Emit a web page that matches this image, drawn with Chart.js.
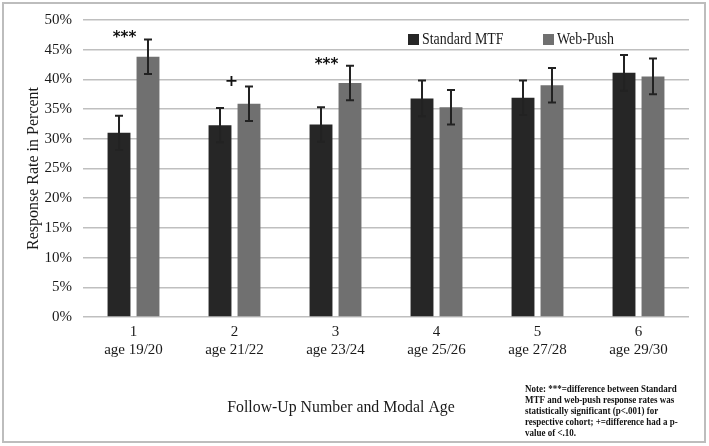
<!DOCTYPE html>
<html>
<head>
<meta charset="utf-8">
<script src="https://cdn.jsdelivr.net/npm/chart.js@4.4.0/dist/chart.umd.min.js"></script>
<style>
  html, body { margin: 0; padding: 0; background: #fff; }
  #wrap { position: relative; width: 709px; height: 446px; }
  #frame { position: absolute; left: 2px; top: 2px; width: 700px; height: 437px; border: 2px solid #bdbdbd; }
</style>
</head>
<body>
<div id="wrap">
  <canvas id="chart" width="709" height="446"></canvas>
  <div id="frame"></div>
</div>
<script>
// --- data ---
const followUps = ['1', '2', '3', '4', '5', '6'];
const ages = ['age 19/20', 'age 21/22', 'age 23/24', 'age 25/26', 'age 27/28', 'age 29/30'];
const standardMTF = [31.0, 32.3, 32.4, 36.8, 36.9, 41.1];
const webPush = [43.8, 35.9, 39.4, 35.3, 39.0, 40.5];
const standardErr = [2.9, 2.9, 2.9, 3.0, 2.9, 3.0];
const webErr = [2.9, 2.9, 2.9, 2.9, 2.9, 3.0];
const sigMarks = ['***', '+', '***', '', '', ''];
const yTicks = [0, 5, 10, 15, 20, 25, 30, 35, 40, 45, 50];

const serif = "'Liberation Serif', 'DejaVu Serif', serif";
const errSets = [standardErr, webErr];

// text squeezed horizontally a bit, the source font is narrower than Liberation Serif
function squeezedText(ctx, text, x, y, font, sx, align) {
    ctx.save();
    ctx.font = font;
    ctx.textAlign = align || 'left';
    ctx.translate(x, y);
    ctx.scale(sx, 1);
    ctx.fillText(text, 0, 0);
    ctx.restore();
}

// error bars + significance marks + legend + titles
const extras = {
    id: 'extras',
    afterDatasetsDraw(chart) {
        const ctx = chart.ctx;
        const y = chart.scales.y;
        const xs = chart.scales.x;
        const area = chart.chartArea;

        // error bars
        ctx.save();
        ctx.strokeStyle = '#222';
        ctx.lineWidth = 2;
        chart.data.datasets.forEach((ds, di) => {
            const meta = chart.getDatasetMeta(di);
            meta.data.forEach((bar, i) => {
                const v = ds.data[i], e = errSets[di][i];
                const top = y.getPixelForValue(v + e);
                const bot = y.getPixelForValue(v - e);
                ctx.beginPath();
                ctx.moveTo(bar.x, top); ctx.lineTo(bar.x, bot);
                ctx.moveTo(bar.x - 4, top); ctx.lineTo(bar.x + 4, top);
                ctx.moveTo(bar.x - 4, bot); ctx.lineTo(bar.x + 4, bot);
                ctx.stroke();
            });
        });
        ctx.restore();

        // significance marks above the web-push bars
        ctx.save();
        ctx.fillStyle = '#111';
        ctx.textBaseline = 'middle';
        sigMarks.forEach((m, i) => {
            if (!m) return;
            const top = y.getPixelForValue(webPush[i] + webErr[i]);
            if (m === '+') {
                squeezedText(ctx, m, xs.getPixelForValue(i) - 3, top - 5, "bold 16px 'DejaVu Sans'", 1, 'center');
            } else {
                squeezedText(ctx, m, xs.getPixelForValue(i) - 9, top - 1, "bold 15px 'DejaVu Sans'", 1, 'center');
            }
        });
        ctx.restore();

        // legend
        ctx.save();
        ctx.textBaseline = 'middle';
        const legendItems = [
            { label: 'Standard MTF', color: '#262626', x: 408 },
            { label: 'Web-Push', color: '#707070', x: 543 }
        ];
        legendItems.forEach(it => {
            ctx.fillStyle = it.color;
            ctx.fillRect(it.x, 34, 11, 11);
            ctx.fillStyle = '#1a1a1a';
            squeezedText(ctx, it.label, it.x + 14, 40, '16px ' + serif, 0.87);
        });
        ctx.restore();

        // axis titles
        ctx.save();
        ctx.fillStyle = '#1a1a1a';
        ctx.textBaseline = 'middle';
        squeezedText(ctx, 'Follow-Up Number and Modal Age', 341, 408, '17px ' + serif, 0.93, 'center');
        ctx.translate(34, (area.top + area.bottom) / 2);
        ctx.rotate(-Math.PI / 2);
        ctx.font = '16px ' + serif;
        ctx.textAlign = 'center';
        ctx.fillText('Response Rate in Percent', 0, 0);
        ctx.restore();

        // note
        ctx.save();
        ctx.fillStyle = '#111';
        ctx.textBaseline = 'middle';
        const note = [
            'Note: ***=difference between Standard',
            'MTF and web-push response rates was',
            'statistically significant (p<.001) for',
            'respective cohort; +=difference had a p-',
            'value of <.10.'
        ];
        note.forEach((line, i) => squeezedText(ctx, line, 525, 389 + i * 11, 'bold 10.5px ' + serif, 0.855));
        ctx.restore();
    }
};

new Chart(document.getElementById('chart'), {
    type: 'bar',
    data: {
        labels: followUps.map((n, i) => [n, ages[i]]),
        datasets: [
            { label: 'Standard MTF', data: standardMTF, backgroundColor: '#262626' },
            { label: 'Web-Push', data: webPush, backgroundColor: '#707070' }
        ]
    },
    options: {
        responsive: false,
        animation: false,
        categoryPercentage: 0.574,
        barPercentage: 0.79,
        layout: { padding: { left: 0, top: 20, right: 20, bottom: 0 } },
        plugins: {
            legend: { display: false },
            tooltip: { enabled: false }
        },
        scales: {
            x: {
                grid: { display: false, drawTicks: false },
                border: { display: false },
                ticks: { color: '#1a1a1a', font: { family: serif, size: 15 }, padding: 6, maxRotation: 0 },
                afterFit: s => { s.height = 129; }
            },
            y: {
                min: 0,
                max: 50,
                afterBuildTicks: s => { s.ticks = yTicks.map(v => ({ value: v })); },
                grid: { color: '#bfbfbf', lineWidth: 1.5, drawTicks: false },
                border: { display: false },
                ticks: {
                    color: '#1a1a1a',
                    font: { family: serif, size: 15 },
                    padding: 11,
                    callback: v => v + '%'
                },
                afterFit: s => { s.width = 83; }
            }
        }
    },
    plugins: [extras]
});
</script>
</body>
</html>
